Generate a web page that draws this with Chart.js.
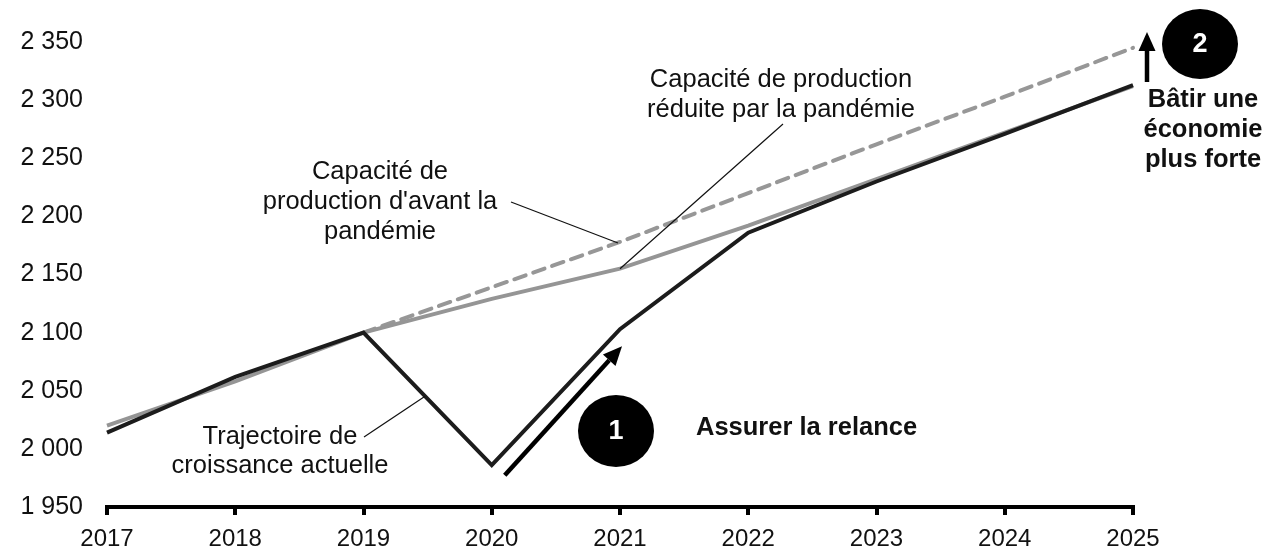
<!DOCTYPE html>
<html>
<head>
<meta charset="utf-8">
<script src="https://cdn.jsdelivr.net/npm/chart.js@4"></script>
<style>
  html, body { margin: 0; padding: 0; background: #fff; }
  #wrap { width: 1288px; height: 551px; }
</style>
</head>
<body>
<div id="wrap"><canvas id="myChart" width="1288" height="551"></canvas></div>
<script>
const years = ['2017', '2018', '2019', '2020', '2021', '2022', '2023', '2024', '2025'];
const actual = [2014, 2062, 2100, 1986, 2103, 2186, 2230, 2271, 2313];
const reduced = [2020, 2058, 2100, 2129, 2155, 2192, 2232, 2272, 2312];
const prePandemic = [null, null, 2100, 2139, 2178, 2220, 2262, 2303, 2345];

const yMin = 1950;
const yMax = 2350;

const FONT = "'Liberation Sans', Arial, sans-serif";

function arrow(ctx, x1, y1, x2, y2, w, headLen, headW) {
  const ang = Math.atan2(y2 - y1, x2 - x1);
  const bx = x2 - headLen * Math.cos(ang);
  const by = y2 - headLen * Math.sin(ang);
  ctx.save();
  ctx.strokeStyle = '#000';
  ctx.fillStyle = '#000';
  ctx.lineWidth = w;
  ctx.beginPath();
  ctx.moveTo(x1, y1);
  ctx.lineTo(bx, by);
  ctx.stroke();
  ctx.beginPath();
  ctx.moveTo(x2, y2);
  ctx.lineTo(bx + headW / 2 * Math.sin(ang), by - headW / 2 * Math.cos(ang));
  ctx.lineTo(bx - headW / 2 * Math.sin(ang), by + headW / 2 * Math.cos(ang));
  ctx.closePath();
  ctx.fill();
  ctx.restore();
}

function leader(ctx, x1, y1, x2, y2) {
  ctx.save();
  ctx.strokeStyle = '#111';
  ctx.lineWidth = 1.2;
  ctx.beginPath();
  ctx.moveTo(x1, y1);
  ctx.lineTo(x2, y2);
  ctx.stroke();
  ctx.restore();
}

function textLines(ctx, lines, x, y, lh, bold) {
  ctx.save();
  ctx.font = (bold ? 'bold ' : '') + '25.5px ' + FONT;
  ctx.fillStyle = '#111';
  ctx.textAlign = 'center';
  ctx.textBaseline = 'middle';
  lines.forEach((l, i) => ctx.fillText(l, x, y + i * lh));
  ctx.restore();
}

function badge(ctx, cx, cy, rx, ry, label) {
  ctx.save();
  ctx.fillStyle = '#000';
  ctx.beginPath();
  ctx.ellipse(cx, cy, rx, ry, 0, 0, Math.PI * 2);
  ctx.fill();
  ctx.fillStyle = '#fff';
  ctx.font = 'bold 27px ' + FONT;
  ctx.textAlign = 'center';
  ctx.textBaseline = 'middle';
  ctx.fillText(label, cx, cy + 1);
  ctx.restore();
}

const notes = {
  id: 'notes',
  afterDatasetsDraw(chart) {
    const ctx = chart.ctx;
    const x = chart.scales.x;
    const y = chart.scales.y;
    const px = (i) => x.getPixelForValue(i);

    // labels + leader lines
    textLines(ctx, ['Capacité de', "production d'avant la", 'pandémie'], 380, 172, 30, false);
    leader(ctx, 511, 202, px(4) - 2, y.getPixelForValue(prePandemic[4]) + 1);

    textLines(ctx, ['Capacité de production', 'réduite par la pandémie'], 781, 80, 30, false);
    leader(ctx, 783, 124, px(4), y.getPixelForValue(reduced[4]));

    textLines(ctx, ['Trajectoire de', 'croissance actuelle'], 280, 437, 29, false);
    const t = 0.48;
    leader(ctx, 364, 437, px(2) + t * (px(3) - px(2)),
      y.getPixelForValue(actual[2] + t * (actual[3] - actual[2])));

    // 1 : relance
    arrow(ctx, px(3) + 13, y.getPixelForValue(actual[3]) + 10,
      px(4) + 2, y.getPixelForValue(actual[4]) + 17, 4.5, 19, 17);
    badge(ctx, 616, 431, 38, 36, '1');
    ctx.save();
    ctx.font = 'bold 25.5px ' + FONT;
    ctx.fillStyle = '#111';
    ctx.textBaseline = 'middle';
    ctx.fillText('Assurer la relance', 696, 428);
    ctx.restore();

    // 2 : economie plus forte
    arrow(ctx, px(8) + 14, y.getPixelForValue(actual[8]) - 3,
      px(8) + 14, 32, 4.5, 19, 17);
    badge(ctx, 1200, 44, 38, 35, '2');
    textLines(ctx, ['Bâtir une', 'économie', 'plus forte'], 1203, 100, 30, true);
  }
};

const ctx = document.getElementById('myChart').getContext('2d');
const myChart = new Chart(ctx, {
  type: 'line',
  data: {
    labels: years,
    datasets: [{
      label: 'Trajectoire de croissance actuelle',
      data: actual,
      borderColor: '#1c1c1c',
      borderWidth: 4,
      pointRadius: 0,
      tension: 0,
      clip: false
    },
    {
      label: 'Capacité de production réduite par la pandémie',
      data: reduced,
      borderColor: '#959595',
      borderWidth: 4,
      pointRadius: 0,
      tension: 0,
      clip: false
    },
    {
      label: "Capacité de production d'avant la pandémie",
      data: prePandemic,
      borderColor: '#979797',
      borderWidth: 4,
      borderDash: [12, 8],
      borderCapStyle: 'round',
      pointRadius: 0,
      tension: 0,
      spanGaps: false,
      clip: false
    }]
  },
  options: {
    responsive: false,
    animation: false,
    layout: { padding: { top: 42, right: 155, left: 0, bottom: 0 } },
    plugins: {
      legend: { display: false },
      tooltip: { enabled: false }
    },
    scales: {
      x: {
        grid: { display: true, drawOnChartArea: false, drawTicks: true, tickLength: 8, lineWidth: 4, color: '#000' },
        border: { display: true, width: 4, color: '#000' },
        ticks: { color: '#111', font: { family: FONT, size: 24 }, padding: 10, maxRotation: 0 },
        afterFit: (s) => { s.height = 44; }
      },
      y: {
        min: yMin,
        max: yMax,
        grid: { display: false },
        border: { display: false },
        ticks: {
          stepSize: 50,
          color: '#111',
          padding: 16,
          font: { family: FONT, size: 25 },
          callback: (v) => String(v).replace(/\B(?=(\d{3})+(?!\d))/g, ' ')
        },
        afterFit: (s) => { s.width = 107; }
      }
    }
  },
  plugins: [notes]
});
</script>
</body>
</html>
